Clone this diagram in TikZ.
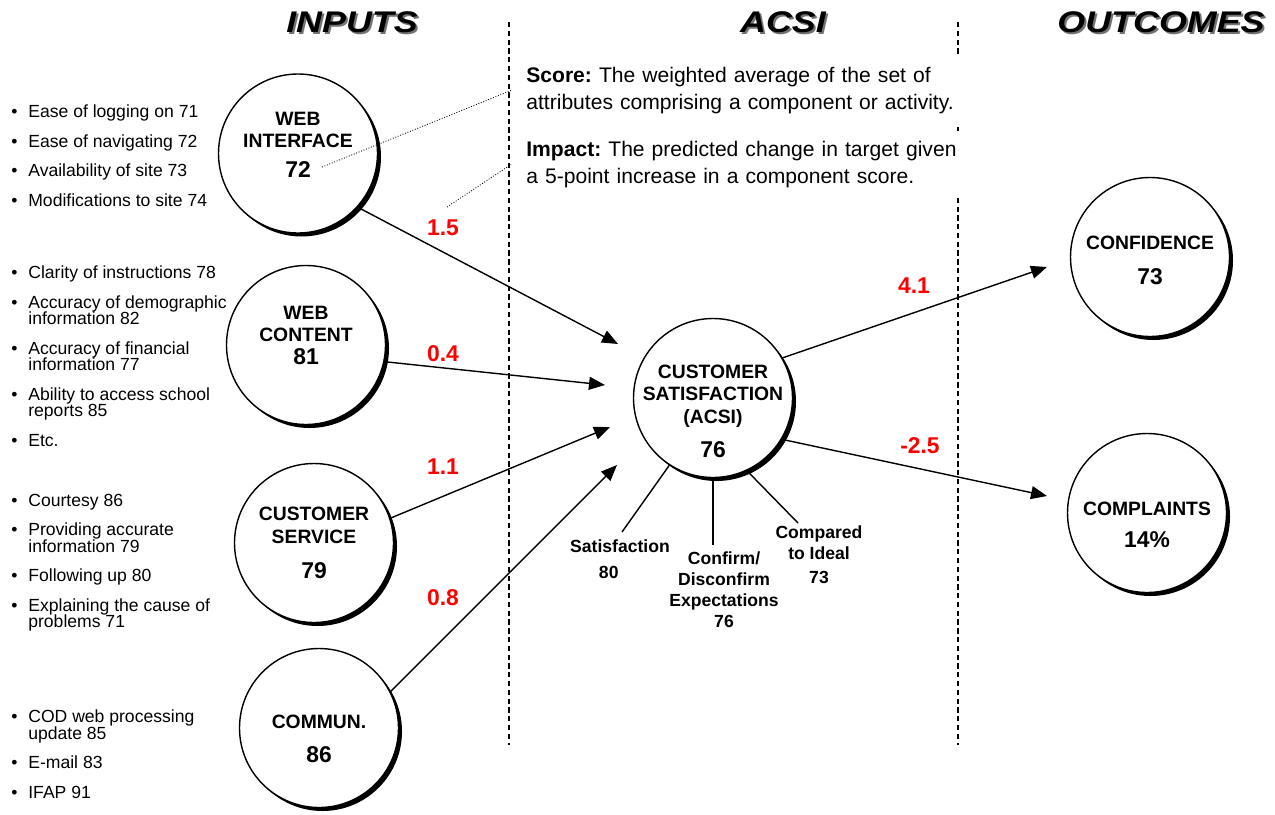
\documentclass[tikz,border=0pt]{standalone}
\usepackage{graphicx}
\usepackage{fontspec}
\setmainfont{Liberation Sans}
\usetikzlibrary{arrows.meta, shadows, calc, positioning}
\lineskiplimit=-10pt
\tikzset{
    bubble/.style={circle, draw, line width=0.8pt, fill=white, minimum size=3.18cm, inner sep=-0.4cm, align=center,
        font=\fontsize{11}{13}\selectfont\bfseries,
        drop shadow={shadow xshift=0.07cm, shadow yshift=-0.07cm, fill=black, opacity=1}},
    impact/.style={-{Triangle[length=0.32cm, width=0.26cm]}, line width=0.8pt},
    spoke/.style={line width=0.8pt},
    weight/.style={text=red, font=\fontsize{13}{15}\selectfont\bfseries},
    facet/.style={align=center, inner sep=1pt, font=\fontsize{10}{12}\selectfont\bfseries},
    attr/.style={anchor=north west, inner sep=0pt, align=left, font=\fontsize{10}{9.4}\selectfont},
    divider/.style={line width=0.6pt, dash pattern=on 3pt off 2pt},
    leader/.style={line width=0.5pt, densely dotted},
    infobox/.style={anchor=west, fill=white, align=left, text width=9.1cm, inner xsep=0.3cm, inner ysep=0.2cm,
        font=\fontsize{12}{15.4}\selectfont\frenchspacing},
    head/.style={font=\fontsize{17}{20}\selectfont\bfseries\itshape},
    headshade/.style={head, text=black!55}
}
\newcommand{\scorenum}[1]{{\fontsize{13}{13}\selectfont #1}}
\newcommand{\wide}[1]{\scalebox{1.2}[1]{#1}}
\newcommand{\bul}{\makebox[0.34cm][l]{•}}
\newcommand{\cont}{\hspace*{0.34cm}}
% pad the first line (text sits lower) or the last line (text sits higher)
\newcommand{\padtop}[1]{\rule{0pt}{#1}}
\newcommand{\padbot}[1]{\rule[-#1]{0pt}{#1}}

\begin{document}
\begin{tikzpicture}
    \useasboundingbox (0,0) rectangle (25.5,-16.28);
    % column headers
    \node[headshade] (hInS) at (7.08,-0.48) {\wide{INPUTS}};
    \node[head] (hIn) at (7.04,-0.44) {\wide{INPUTS}};
    \node[headshade] (hAcS) at (15.70,-0.48) {\wide{ACSI}};
    \node[head] (hAc) at (15.66,-0.44) {\wide{ACSI}};
    \node[headshade] (hOutS) at (23.26,-0.48) {\wide{OUTCOMES}};
    \node[head] (hOut) at (23.22,-0.44) {\wide{OUTCOMES}};
    \draw[divider] (10.18,-0.44) -- (10.18,-14.9);
    \draw[divider] (19.16,-0.44) -- (19.16,-14.9);
    \node[infobox] (score) at (10.22,-1.81) {\textbf{Score:} The weighted average of the set of\\attributes comprising a component or activity.};
    \node[infobox] (impact) at (10.22,-3.29) {\textbf{Impact:} The predicted change in target given\\a 5-point increase in a component score.};
    % attribute lists
    \node[attr] (aWI) at (0.22,-2.09) {\bul Ease of logging on 71\\[7.4pt]\bul Ease of navigating 72\\[7.4pt]\bul Availability of site 73\\[7.4pt]\bul Modifications to site 74};
    \node[attr] (aWC) at (0.22,-5.31) {\bul Clarity of instructions 78\\[7.4pt]\bul Accuracy of demographic\\\cont information 82\\[7.4pt]\bul Accuracy of financial\\\cont information 77\\[7.4pt]\bul Ability to access school\\\cont reports 85\\[7.4pt]\bul Etc.};
    \node[attr] (aCS) at (0.22,-9.87) {\bul Courtesy 86\\[7.4pt]\bul Providing accurate\\\cont information 79\\[7.4pt]\bul Following up 80\\[7.4pt]\bul Explaining the cause of\\\cont problems 71};
    \node[attr] (aCM) at (0.22,-14.19) {\bul COD web processing\\\cont update 85\\[7.4pt]\bul E-mail 83\\[7.4pt]\bul IFAP 91};
    % components
    \node[bubble] (wi) at (5.96,-3.07) {WEB\\INTERFACE\\[4pt]\scorenum{72}\padbot{10pt}};
    \node[bubble] (wc) at (6.12,-6.90) {WEB\\CONTENT\\\scorenum{81}\padbot{11pt}};
    \node[bubble] (cs) at (6.28,-10.86) {CUSTOMER\\SERVICE\\[7pt]\scorenum{79}};
    \node[bubble] (cm) at (6.38,-14.56) {\padtop{20pt}COMMUN.\\[6pt]\scorenum{86}};
    \node[bubble] (acsi) at (14.26,-7.96) {\padtop{22.5pt}CUSTOMER\\SATISFACTION\\(ACSI)\\[6pt]\scorenum{76}};
    \node[bubble] (conf) at (23.00,-5.14) {\padtop{11.5pt}CONFIDENCE\\[7pt]\scorenum{73}};
    \node[bubble] (comp) at (22.94,-10.26) {\padtop{21.5pt}COMPLAINTS\\[5pt]\scorenum{14\%}};
    \coordinate (tWI) at (12.36,-6.88);
    \coordinate (tWC) at (12.10,-7.70);
    \coordinate (tCS) at (12.20,-8.54);
    \coordinate (tCM) at (12.34,-9.30);
    \coordinate (tCF) at (20.94,-5.34);
    \coordinate (tCP) at (20.94,-9.92);
    \draw[impact] (wi.-42) -- (tWI);
    \draw[impact] (wc.-12) -- (tWC);
    \draw[impact] (cs.18) -- (tCS);
    \draw[impact] (cm.27) -- (tCM);
    \draw[impact] (acsi.30) -- (tCF);
    \draw[impact] (acsi.-31) -- (tCP);
    \node[weight] (w1) at (8.86,-4.56) {1.5};
    \node[weight] (w2) at (8.86,-7.08) {0.4};
    \node[weight] (w3) at (8.86,-9.34) {1.1};
    \node[weight] (w4) at (8.86,-11.96) {0.8};
    \node[weight] (w5) at (18.28,-5.72) {4.1};
    \node[weight] (w6) at (18.40,-8.92) {-2.5};
    % ACSI facets
    \coordinate (sSat) at (12.44,-10.64);
    \coordinate (sCon) at (14.26,-10.90);
    \coordinate (sCmp) at (15.96,-10.46);
    \draw[spoke] (acsi.-123) -- (sSat);
    \draw[spoke] (acsi.-90) -- (sCon);
    \draw[spoke] (acsi.-65) -- (sCmp);
    \node[facet] (fSat) at (12.40,-11.18) {Satisfaction\\[2.8pt]80\hspace*{0.45cm}};
    \node[facet] (fCon) at (14.48,-11.80) {Confirm/\\Disconfirm\\Expectations\\76};
    \node[facet] (fCmp) at (16.38,-11.10) {Compared\\to Ideal\\[1.5pt]73};
    \draw[leader] ($(wi)+(0.48,-0.27)$) -- (score.west);
    \draw[leader] ($(w1)+(0.08,0.42)$) -- (impact.west);
\end{tikzpicture}
\end{document}
